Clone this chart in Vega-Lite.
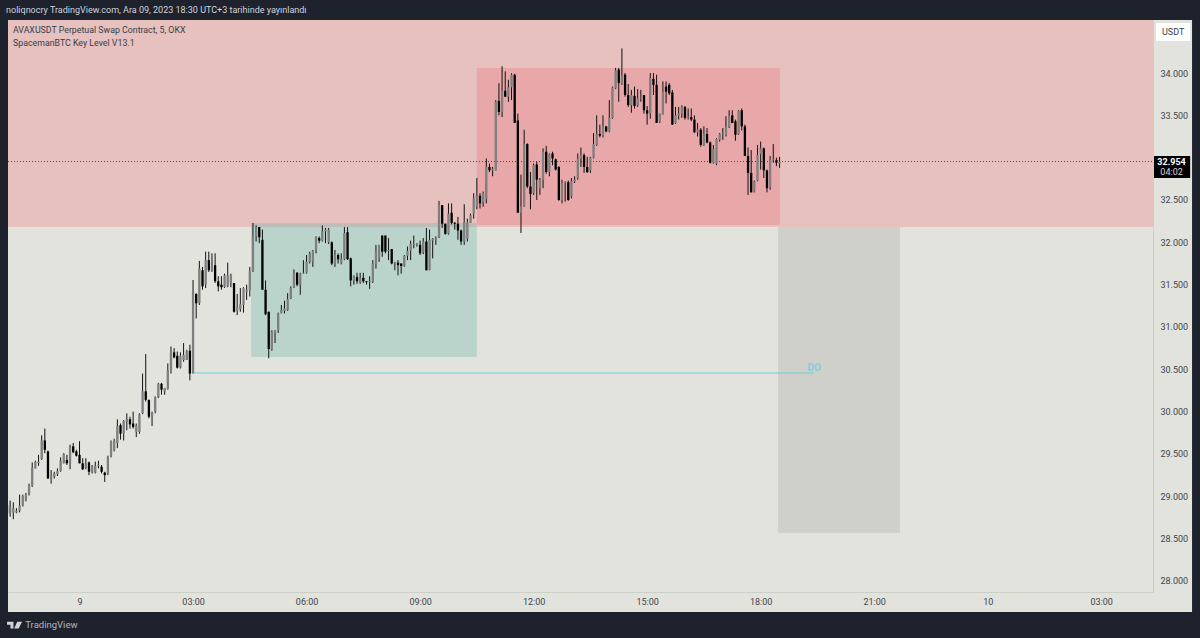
{
"$schema":"https://vega.github.io/schema/vega-lite/v6.json",
"autosize":{"type":"none"},
"padding":{"left":8,"top":20,"right":47,"bottom":46},
"width":1145,
"height":572,
"background":"#1e222d",
"title":{"text":"noliqnocry TradingView.com, Ara 09, 2023 18:30 UTC+3 tarihinde yayınlandı","anchor":"start","font":"Roboto","fontSize":9,"fontWeight":"normal","color":"#d1d4dc","offset":5,"dx":-1},
"config":{"view":{"stroke":null}},
"datasets":{
"zones":[
{"zone":"panel","m":-113.4,"m2":1764,"p":34.626,"p2":27.634},
{"zone":"premium","m":-113.4,"m2":1702.1,"p":34.626,"p2":32.181},
{"zone":"buy box","m":272,"m2":630,"p":32.228,"p2":30.646},
{"zone":"sell box","m":630,"m2":1110.6,"p":34.059,"p2":32.205},
{"zone":"target box","m":1107.6,"m2":1301,"p":32.181,"p2":28.567},
{"zone":"currency","m":1707,"m2":1761,"p":34.59,"p2":34.378},
{"zone":"price","m":1702.1,"m2":1761,"p":33.02,"p2":32.76}
],
"candles":[
{"m":-115,"o":28.90,"h":28.92,"l":28.78,"c":28.80},
{"m":-110,"o":28.80,"h":28.95,"l":28.76,"c":28.87},
{"m":-105,"o":28.81,"h":28.93,"l":28.73,"c":28.86},
{"m":-100,"o":28.81,"h":28.86,"l":28.80,"c":28.83},
{"m":-95,"o":28.83,"h":29.02,"l":28.81,"c":28.89},
{"m":-90,"o":28.89,"h":29.02,"l":28.88,"c":29.00},
{"m":-85,"o":28.96,"h":29.04,"l":28.94,"c":29.02},
{"m":-80,"o":29.03,"h":29.15,"l":29.01,"c":29.13},
{"m":-75,"o":29.12,"h":29.40,"l":29.11,"c":29.34},
{"m":-70,"o":29.33,"h":29.42,"l":29.33,"c":29.41},
{"m":-65,"o":29.39,"h":29.49,"l":29.36,"c":29.41},
{"m":-60,"o":29.44,"h":29.72,"l":29.43,"c":29.66},
{"m":-55,"o":29.66,"h":29.80,"l":29.51,"c":29.55},
{"m":-50,"o":29.53,"h":29.54,"l":29.21,"c":29.21},
{"m":-45,"o":29.20,"h":29.31,"l":29.15,"c":29.25},
{"m":-40,"o":29.23,"h":29.29,"l":29.21,"c":29.27},
{"m":-35,"o":29.26,"h":29.33,"l":29.24,"c":29.30},
{"m":-30,"o":29.30,"h":29.46,"l":29.29,"c":29.42},
{"m":-25,"o":29.39,"h":29.51,"l":29.39,"c":29.50},
{"m":-20,"o":29.43,"h":29.49,"l":29.37,"c":29.39},
{"m":-15,"o":29.39,"h":29.61,"l":29.32,"c":29.59},
{"m":-10,"o":29.59,"h":29.63,"l":29.51,"c":29.52},
{"m":-5,"o":29.53,"h":29.55,"l":29.47,"c":29.48},
{"m":0,"o":29.49,"h":29.65,"l":29.39,"c":29.39},
{"m":5,"o":29.39,"h":29.45,"l":29.31,"c":29.32},
{"m":10,"o":29.33,"h":29.45,"l":29.32,"c":29.39},
{"m":15,"o":29.40,"h":29.41,"l":29.25,"c":29.29},
{"m":20,"o":29.28,"h":29.37,"l":29.27,"c":29.36},
{"m":25,"o":29.28,"h":29.41,"l":29.27,"c":29.36},
{"m":30,"o":29.36,"h":29.42,"l":29.33,"c":29.37},
{"m":35,"o":29.35,"h":29.37,"l":29.27,"c":29.29},
{"m":40,"o":29.28,"h":29.29,"l":29.17,"c":29.25},
{"m":45,"o":29.27,"h":29.48,"l":29.25,"c":29.47},
{"m":50,"o":29.48,"h":29.66,"l":29.46,"c":29.65},
{"m":55,"o":29.54,"h":29.68,"l":29.53,"c":29.66},
{"m":60,"o":29.63,"h":29.91,"l":29.57,"c":29.83},
{"m":65,"o":29.84,"h":29.86,"l":29.67,"c":29.74},
{"m":70,"o":29.74,"h":29.90,"l":29.66,"c":29.89},
{"m":75,"o":29.88,"h":29.98,"l":29.78,"c":29.91},
{"m":80,"o":29.91,"h":29.94,"l":29.80,"c":29.85},
{"m":85,"o":29.86,"h":30.00,"l":29.80,"c":29.82},
{"m":90,"o":29.76,"h":29.86,"l":29.70,"c":29.84},
{"m":95,"o":29.76,"h":29.98,"l":29.74,"c":29.97},
{"m":100,"o":29.98,"h":30.45,"l":29.97,"c":30.24},
{"m":105,"o":30.24,"h":30.68,"l":30.12,"c":30.14},
{"m":110,"o":30.14,"h":30.14,"l":29.92,"c":29.94},
{"m":115,"o":29.94,"h":30.00,"l":29.83,"c":29.99},
{"m":120,"o":30.00,"h":30.18,"l":29.98,"c":30.17},
{"m":125,"o":30.17,"h":30.34,"l":30.16,"c":30.33},
{"m":130,"o":30.33,"h":30.34,"l":30.20,"c":30.26},
{"m":135,"o":30.24,"h":30.28,"l":30.20,"c":30.28},
{"m":140,"o":30.27,"h":30.57,"l":30.26,"c":30.49},
{"m":145,"o":30.49,"h":30.77,"l":30.45,"c":30.71},
{"m":150,"o":30.70,"h":30.75,"l":30.63,"c":30.64},
{"m":155,"o":30.66,"h":30.71,"l":30.51,"c":30.52},
{"m":160,"o":30.52,"h":30.70,"l":30.51,"c":30.66},
{"m":165,"o":30.61,"h":30.81,"l":30.59,"c":30.67},
{"m":170,"o":30.61,"h":30.73,"l":30.61,"c":30.72},
{"m":175,"o":30.72,"h":30.79,"l":30.37,"c":30.45},
{"m":180,"o":30.46,"h":31.555,"l":30.45,"c":31.40},
{"m":185,"o":31.39,"h":31.40,"l":31.10,"c":31.28},
{"m":190,"o":31.28,"h":31.78,"l":31.26,"c":31.69},
{"m":195,"o":31.67,"h":31.71,"l":31.44,"c":31.48},
{"m":200,"o":31.50,"h":31.89,"l":31.46,"c":31.79},
{"m":205,"o":31.79,"h":31.89,"l":31.65,"c":31.67},
{"m":210,"o":31.67,"h":31.87,"l":31.65,"c":31.72},
{"m":215,"o":31.73,"h":31.87,"l":31.52,"c":31.54},
{"m":220,"o":31.54,"h":31.60,"l":31.42,"c":31.48},
{"m":225,"o":31.50,"h":31.60,"l":31.44,"c":31.47},
{"m":230,"o":31.47,"h":31.63,"l":31.46,"c":31.61},
{"m":235,"o":31.48,"h":31.76,"l":31.47,"c":31.61},
{"m":240,"o":31.52,"h":31.63,"l":31.47,"c":31.61},
{"m":245,"o":31.52,"h":31.52,"l":31.17,"c":31.18},
{"m":250,"o":31.19,"h":31.39,"l":31.14,"c":31.24},
{"m":255,"o":31.21,"h":31.46,"l":31.18,"c":31.27},
{"m":260,"o":31.26,"h":31.47,"l":31.17,"c":31.46},
{"m":265,"o":31.42,"h":31.50,"l":31.32,"c":31.44},
{"m":270,"o":31.43,"h":31.71,"l":31.36,"c":31.66},
{"m":275,"o":31.66,"h":32.23,"l":31.65,"c":32.07},
{"m":280,"o":32.07,"h":32.20,"l":32.01,"c":32.18},
{"m":285,"o":32.18,"h":32.18,"l":31.99,"c":32.06},
{"m":290,"o":32.03,"h":32.15,"l":31.44,"c":31.44},
{"m":295,"o":31.44,"h":31.55,"l":31.14,"c":31.15},
{"m":300,"o":31.18,"h":31.18,"l":30.63,"c":30.74},
{"m":305,"o":30.74,"h":30.96,"l":30.72,"c":30.94},
{"m":310,"o":30.93,"h":30.96,"l":30.81,"c":30.96},
{"m":315,"o":30.96,"h":31.17,"l":30.93,"c":31.16},
{"m":320,"o":31.17,"h":31.26,"l":31.16,"c":31.20},
{"m":325,"o":31.19,"h":31.31,"l":31.16,"c":31.22},
{"m":330,"o":31.20,"h":31.40,"l":31.19,"c":31.33},
{"m":335,"o":31.34,"h":31.48,"l":31.33,"c":31.46},
{"m":340,"o":31.47,"h":31.68,"l":31.46,"c":31.64},
{"m":345,"o":31.64,"h":31.65,"l":31.48,"c":31.50},
{"m":350,"o":31.50,"h":31.64,"l":31.38,"c":31.63},
{"m":355,"o":31.63,"h":31.79,"l":31.63,"c":31.64},
{"m":360,"o":31.64,"h":31.85,"l":31.63,"c":31.77},
{"m":365,"o":31.77,"h":31.89,"l":31.75,"c":31.87},
{"m":370,"o":31.77,"h":31.91,"l":31.71,"c":31.90},
{"m":375,"o":31.91,"h":32.07,"l":31.87,"c":32.05},
{"m":380,"o":32.05,"h":32.07,"l":31.99,"c":32.02},
{"m":385,"o":32.02,"h":32.20,"l":32.01,"c":32.13},
{"m":390,"o":32.13,"h":32.17,"l":31.99,"c":32.15},
{"m":395,"o":32.00,"h":32.17,"l":31.98,"c":32.15},
{"m":400,"o":32.00,"h":32.01,"l":31.73,"c":31.75},
{"m":405,"o":31.75,"h":31.91,"l":31.71,"c":31.85},
{"m":410,"o":31.85,"h":31.87,"l":31.75,"c":31.80},
{"m":415,"o":31.75,"h":31.87,"l":31.74,"c":31.80},
{"m":420,"o":31.80,"h":32.18,"l":31.79,"c":32.11},
{"m":425,"o":32.12,"h":32.18,"l":31.79,"c":31.80},
{"m":430,"o":31.81,"h":31.82,"l":31.48,"c":31.55},
{"m":435,"o":31.55,"h":31.61,"l":31.50,"c":31.60},
{"m":440,"o":31.59,"h":31.64,"l":31.51,"c":31.54},
{"m":445,"o":31.53,"h":31.64,"l":31.51,"c":31.58},
{"m":450,"o":31.58,"h":31.64,"l":31.52,"c":31.54},
{"m":455,"o":31.54,"h":31.54,"l":31.50,"c":31.53},
{"m":460,"o":31.53,"h":31.60,"l":31.45,"c":31.54},
{"m":465,"o":31.53,"h":31.79,"l":31.52,"c":31.75},
{"m":470,"o":31.75,"h":31.97,"l":31.69,"c":31.89},
{"m":475,"o":31.81,"h":31.97,"l":31.77,"c":31.97},
{"m":480,"o":32.08,"h":32.08,"l":31.83,"c":31.89},
{"m":485,"o":32.08,"h":32.08,"l":31.87,"c":31.89},
{"m":490,"o":31.90,"h":32.05,"l":31.79,"c":31.91},
{"m":495,"o":31.92,"h":31.92,"l":31.74,"c":31.75},
{"m":500,"o":31.75,"h":31.77,"l":31.67,"c":31.76},
{"m":505,"o":31.76,"h":31.79,"l":31.61,"c":31.73},
{"m":510,"o":31.75,"h":31.75,"l":31.63,"c":31.72},
{"m":515,"o":31.72,"h":31.85,"l":31.71,"c":31.84},
{"m":520,"o":31.84,"h":31.95,"l":31.79,"c":31.90},
{"m":525,"o":31.90,"h":32.02,"l":31.79,"c":31.98},
{"m":530,"o":31.97,"h":32.08,"l":31.93,"c":31.98},
{"m":535,"o":31.97,"h":31.99,"l":31.95,"c":31.98},
{"m":540,"o":31.97,"h":32.02,"l":31.85,"c":31.87},
{"m":545,"o":31.88,"h":32.05,"l":31.86,"c":32.01},
{"m":550,"o":32.01,"h":32.17,"l":31.67,"c":31.67},
{"m":555,"o":31.67,"h":32.15,"l":31.67,"c":32.03},
{"m":560,"o":32.02,"h":32.05,"l":31.81,"c":32.04},
{"m":565,"o":32.03,"h":32.07,"l":31.97,"c":32.05},
{"m":570,"o":32.06,"h":32.49,"l":32.05,"c":32.44},
{"m":575,"o":32.44,"h":32.44,"l":32.17,"c":32.22},
{"m":580,"o":32.22,"h":32.22,"l":32.09,"c":32.10},
{"m":585,"o":32.10,"h":32.46,"l":32.09,"c":32.34},
{"m":590,"o":32.35,"h":32.46,"l":32.21,"c":32.23},
{"m":595,"o":32.23,"h":32.24,"l":32.15,"c":32.22},
{"m":600,"o":32.22,"h":32.30,"l":32.03,"c":32.14},
{"m":605,"o":32.14,"h":32.15,"l":31.97,"c":32.01},
{"m":610,"o":32.01,"h":32.45,"l":31.97,"c":32.24},
{"m":615,"o":32.04,"h":32.28,"l":32.01,"c":32.24},
{"m":620,"o":32.23,"h":32.34,"l":32.23,"c":32.32},
{"m":625,"o":32.34,"h":32.58,"l":32.28,"c":32.52},
{"m":630,"o":32.42,"h":32.76,"l":32.39,"c":32.55},
{"m":635,"o":32.55,"h":32.58,"l":32.40,"c":32.46},
{"m":640,"o":32.47,"h":32.60,"l":32.42,"c":32.58},
{"m":645,"o":32.51,"h":32.99,"l":32.46,"c":32.89},
{"m":650,"o":32.89,"h":32.93,"l":32.83,"c":32.85},
{"m":655,"o":32.85,"h":32.89,"l":32.78,"c":32.87},
{"m":660,"o":32.85,"h":33.68,"l":32.85,"c":33.66},
{"m":665,"o":33.67,"h":33.88,"l":33.50,"c":33.54},
{"m":670,"o":33.54,"h":34.08,"l":33.48,"c":33.79},
{"m":675,"o":33.79,"h":34.02,"l":33.72,"c":33.72},
{"m":680,"o":33.72,"h":33.92,"l":33.66,"c":33.83},
{"m":685,"o":33.83,"h":33.997,"l":33.68,"c":33.98},
{"m":690,"o":33.98,"h":33.99,"l":33.41,"c":33.41},
{"m":695,"o":33.44,"h":33.52,"l":32.35,"c":32.35},
{"m":700,"o":32.35,"h":32.80,"l":32.11,"c":32.42},
{"m":705,"o":32.43,"h":33.33,"l":32.42,"c":33.16},
{"m":710,"o":33.16,"h":33.17,"l":32.64,"c":32.66},
{"m":715,"o":32.66,"h":32.83,"l":32.39,"c":32.57},
{"m":720,"o":32.58,"h":32.93,"l":32.56,"c":32.91},
{"m":725,"o":32.92,"h":32.95,"l":32.50,"c":32.74},
{"m":730,"o":32.64,"h":32.76,"l":32.56,"c":32.74},
{"m":735,"o":32.74,"h":33.11,"l":32.64,"c":33.07},
{"m":740,"o":33.07,"h":33.14,"l":32.81,"c":32.83},
{"m":745,"o":32.83,"h":33.05,"l":32.78,"c":33.04},
{"m":750,"o":33.05,"h":33.07,"l":32.91,"c":32.99},
{"m":755,"o":32.98,"h":32.99,"l":32.85,"c":32.86},
{"m":760,"o":32.89,"h":32.90,"l":32.49,"c":32.50},
{"m":765,"o":32.50,"h":32.74,"l":32.46,"c":32.70},
{"m":770,"o":32.70,"h":32.72,"l":32.48,"c":32.71},
{"m":775,"o":32.71,"h":32.73,"l":32.49,"c":32.50},
{"m":780,"o":32.54,"h":32.76,"l":32.52,"c":32.72},
{"m":785,"o":32.72,"h":32.78,"l":32.70,"c":32.74},
{"m":790,"o":32.76,"h":33.05,"l":32.74,"c":32.99},
{"m":795,"o":32.99,"h":33.12,"l":32.89,"c":33.03},
{"m":800,"o":33.03,"h":33.05,"l":32.82,"c":32.89},
{"m":805,"o":32.89,"h":33.01,"l":32.82,"c":32.83},
{"m":810,"o":32.85,"h":33.01,"l":32.82,"c":33.00},
{"m":815,"o":33.00,"h":33.29,"l":32.99,"c":33.16},
{"m":820,"o":33.15,"h":33.50,"l":33.14,"c":33.28},
{"m":825,"o":33.28,"h":33.39,"l":33.24,"c":33.26},
{"m":830,"o":33.26,"h":33.50,"l":33.24,"c":33.37},
{"m":835,"o":33.37,"h":33.37,"l":33.30,"c":33.31},
{"m":840,"o":33.31,"h":33.68,"l":33.30,"c":33.47},
{"m":845,"o":33.47,"h":33.84,"l":33.46,"c":33.83},
{"m":850,"o":33.82,"h":34.06,"l":33.81,"c":34.03},
{"m":855,"o":34.04,"h":34.06,"l":33.66,"c":33.88},
{"m":860,"o":33.88,"h":34.29,"l":33.86,"c":33.97},
{"m":865,"o":33.98,"h":34.00,"l":33.72,"c":33.74},
{"m":870,"o":33.74,"h":33.87,"l":33.60,"c":33.62},
{"m":875,"o":33.62,"h":33.80,"l":33.53,"c":33.74},
{"m":880,"o":33.73,"h":33.84,"l":33.58,"c":33.61},
{"m":885,"o":33.62,"h":33.81,"l":33.60,"c":33.70},
{"m":890,"o":33.70,"h":33.80,"l":33.66,"c":33.71},
{"m":895,"o":33.74,"h":33.74,"l":33.52,"c":33.56},
{"m":900,"o":33.56,"h":33.61,"l":33.39,"c":33.52},
{"m":905,"o":33.52,"h":34.00,"l":33.46,"c":33.94},
{"m":910,"o":33.93,"h":34.00,"l":33.74,"c":33.86},
{"m":915,"o":33.86,"h":33.98,"l":33.41,"c":33.41},
{"m":920,"o":33.42,"h":33.52,"l":33.41,"c":33.52},
{"m":925,"o":33.51,"h":33.90,"l":33.51,"c":33.78},
{"m":930,"o":33.84,"h":33.90,"l":33.64,"c":33.78},
{"m":935,"o":33.86,"h":33.88,"l":33.74,"c":33.76},
{"m":940,"o":33.77,"h":33.80,"l":33.39,"c":33.39},
{"m":945,"o":33.41,"h":33.60,"l":33.40,"c":33.50},
{"m":950,"o":33.50,"h":33.60,"l":33.45,"c":33.52},
{"m":955,"o":33.52,"h":33.62,"l":33.47,"c":33.60},
{"m":960,"o":33.60,"h":33.61,"l":33.45,"c":33.47},
{"m":965,"o":33.47,"h":33.58,"l":33.45,"c":33.48},
{"m":970,"o":33.48,"h":33.58,"l":33.43,"c":33.45},
{"m":975,"o":33.45,"h":33.50,"l":33.29,"c":33.30},
{"m":980,"o":33.30,"h":33.41,"l":33.25,"c":33.33},
{"m":985,"o":33.33,"h":33.35,"l":33.13,"c":33.15},
{"m":990,"o":33.15,"h":33.37,"l":33.14,"c":33.28},
{"m":995,"o":33.28,"h":33.35,"l":33.17,"c":33.18},
{"m":1000,"o":33.18,"h":33.19,"l":32.93,"c":32.94},
{"m":1005,"o":32.94,"h":33.15,"l":32.93,"c":33.10},
{"m":1010,"o":32.93,"h":33.23,"l":32.91,"c":33.22},
{"m":1015,"o":33.21,"h":33.29,"l":33.19,"c":33.28},
{"m":1020,"o":33.28,"h":33.35,"l":33.21,"c":33.29},
{"m":1025,"o":33.27,"h":33.49,"l":33.25,"c":33.36},
{"m":1030,"o":33.36,"h":33.56,"l":33.35,"c":33.49},
{"m":1035,"o":33.50,"h":33.56,"l":33.41,"c":33.41},
{"m":1040,"o":33.43,"h":33.45,"l":33.20,"c":33.27},
{"m":1045,"o":33.28,"h":33.56,"l":33.27,"c":33.55},
{"m":1050,"o":33.56,"h":33.58,"l":33.32,"c":33.37},
{"m":1055,"o":33.37,"h":33.39,"l":33.02,"c":33.02},
{"m":1060,"o":33.02,"h":33.12,"l":32.56,"c":32.82},
{"m":1065,"o":32.82,"h":33.09,"l":32.59,"c":32.59},
{"m":1070,"o":32.60,"h":32.73,"l":32.59,"c":32.72},
{"m":1075,"o":32.73,"h":33.15,"l":32.72,"c":33.03},
{"m":1080,"o":33.04,"h":33.19,"l":32.86,"c":33.11},
{"m":1085,"o":33.11,"h":33.12,"l":32.76,"c":32.85},
{"m":1090,"o":32.85,"h":32.86,"l":32.59,"c":32.64},
{"m":1095,"o":32.65,"h":33.02,"l":32.62,"c":32.97},
{"m":1100,"o":32.97,"h":33.16,"l":32.94,"c":32.98},
{"m":1105,"o":32.97,"h":33.00,"l":32.90,"c":32.94},
{"m":1110,"o":32.93,"h":33.01,"l":32.88,"c":32.954}
]
},
"encoding":{
"x":{"field":"m","type":"quantitative","scale":{"domain":[-113.4,1702.1],"nice":false,"zero":false,"padding":0},
"axis":{"title":null,"values":[0,180,360,540,720,900,1080,1260,1440,1620],"labelExpr":"datum.value==0?'9':datum.value==1440?'10':format(floor(datum.value%1440/60),'02d')+':00'","ticks":false,"grid":false,"zindex":1,"domainColor":"#cdcfc9","labelColor":"#42454d","labelFont":"Roboto","labelFontSize":9,"labelPadding":5,"labelOverlap":false,"labelFlush":false}},
"y":{"field":"p","type":"quantitative","scale":{"domain":[27.87,34.626],"nice":false,"zero":false,"padding":0},
"axis":{"title":null,"orient":"right","values":[28,28.5,29,29.5,30,30.5,31,31.5,32,32.5,33.5,34],"format":".3f","ticks":false,"grid":false,"zindex":1,"domainColor":"#cdcfc9","labelColor":"#42454d","labelFont":"Roboto","labelFontSize":9,"labelPadding":7,"labelOverlap":false,"labelFlush":false}}
},
"layer":[
{"data":{"name":"zones"},
"mark":{"type":"rect"},
"encoding":{
"x2":{"field":"m2"},
"y2":{"field":"p2"},
"color":{"field":"zone","type":"nominal","legend":null,"scale":{
"domain":["panel","premium","buy box","sell box","target box","currency","price"],
"range":["#e1e3dc","#e6c1be","rgba(98,180,167,0.3)","rgba(240,113,123,0.3)","#cfd0ca","#ffffff","#000000"]}}
}},
{"data":{"values":[{"m":180,"m2":1164,"p":30.457}]},
"mark":{"type":"rule","color":"#6fcfdd","strokeWidth":1},
"encoding":{"x2":{"field":"m2"}}},
{"data":{"values":[{"m":-113.4,"m2":1702.1,"p":32.954}]},
"mark":{"type":"rule","color":"#4a4a4a","strokeWidth":1,"strokeDash":[1,2]},
"encoding":{"x2":{"field":"m2"}}},
{"data":{"name":"candles"},
"mark":{"type":"rule","color":"#111111","strokeWidth":1,"clip":true},
"encoding":{
"y":{"field":"h","type":"quantitative","title":null},
"y2":{"field":"l"}
}},
{"data":{"name":"candles"},
"mark":{"type":"bar","size":2.3,"clip":true},
"encoding":{
"y":{"field":"o","type":"quantitative","title":null},
"y2":{"field":"c"},
"color":{"condition":{"test":"datum.c<datum.o","value":"#000000"},"value":"#7f7f7f"}
}},
{"data":{"values":[{"m":1165,"p":30.52,"label":"DO"}]},
"mark":{"type":"text","font":"Roboto","fontSize":10,"fontWeight":"bold","color":"#7fcfe0"},
"encoding":{"text":{"field":"label"}}},
{"data":{"values":[
{"m":-105.5,"p":34.508,"label":"AVAXUSDT Perpetual Swap Contract, 5, OKX"},
{"m":-105.5,"p":34.354,"label":"SpacemanBTC Key Level V13.1"}
]},
"mark":{"type":"text","font":"Roboto","fontSize":8.8,"align":"left","color":"#3a3d46"},
"encoding":{"text":{"field":"label"}}},
{"data":{"values":[{"m":1734,"p":34.484,"label":"USDT"}]},
"mark":{"type":"text","font":"Roboto","fontSize":9,"color":"#3a3d46"},
"encoding":{"text":{"field":"label"}}},
{"data":{"values":[{"m":1731.5,"p":32.95,"label":"32.954"}]},
"mark":{"type":"text","font":"Roboto","fontSize":9,"fontWeight":"bold","color":"#ffffff"},
"encoding":{"text":{"field":"label"}}},
{"data":{"values":[{"m":1731.5,"p":32.825,"label":"04:02"}]},
"mark":{"type":"text","font":"Roboto","fontSize":9,"color":"#d1d4dc"},
"encoding":{"text":{"field":"label"}}},
{"data":{"values":[{"m":-103,"p":27.48}]},
"mark":{"type":"point","filled":true,"opacity":1,"color":"#d1d4dc","size":225,"shape":"M-1,-0.45H-0.15V0.45H-0.55V-0.05H-1Z M0.35,-0.45H1L0.55,0.45H-0.05Z"}},
{"data":{"values":[{"m":-86,"p":27.48,"label":"TradingView"}]},
"mark":{"type":"text","font":"Roboto","fontSize":9.5,"align":"left","color":"#b2b5be"},
"encoding":{"text":{"field":"label"}}}
]
}
